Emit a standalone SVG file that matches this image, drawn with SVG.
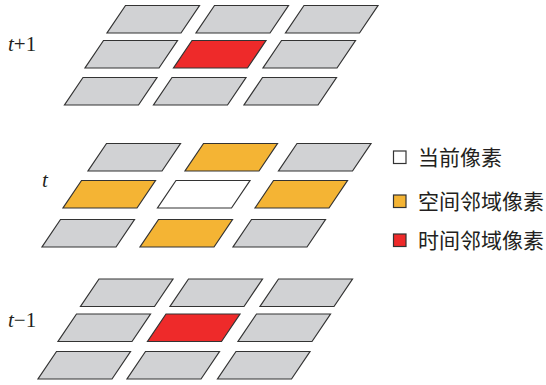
<svg xmlns="http://www.w3.org/2000/svg" width="546" height="385" viewBox="0 0 546 385">
<style>
.c{stroke:#333333;stroke-width:1.2;stroke-linejoin:miter}
.g{fill:#d1d2d4}
.o{fill:#f4b434}
.r{fill:#ee2a2a}
.w{fill:#ffffff}
.lbl{font-family:"Liberation Serif","Times New Roman",serif;font-size:21px;fill:#231f20}
.lg{font-family:"Noto Sans CJK SC","Noto Sans",sans-serif;font-size:21px;fill:#231f20}
</style>
<rect width="546" height="385" fill="#ffffff"/>
<g id="grid-t-plus-1">
<polygon class="c g" points="125.5,5.5 199.5,5.5 181,33 107,33"/>
<polygon class="c g" points="214.5,5.5 288.5,5.5 270,33 196,33"/>
<polygon class="c g" points="304,5.5 378,5.5 359.5,33 285.5,33"/>
<polygon class="c g" points="103.5,40.5 177.5,40.5 159,68 85,68"/>
<polygon class="c r" points="192,40.5 266,40.5 247.5,68 173.5,68"/>
<polygon class="c g" points="281.5,40.5 355.5,40.5 337,68 263,68"/>
<polygon class="c g" points="83,77.5 157,77.5 138.5,105 64.5,105"/>
<polygon class="c g" points="172,77.5 246,77.5 227.5,105 153.5,105"/>
<polygon class="c g" points="262.5,77.5 336.5,77.5 318,105 244,105"/>
<text class="lbl" x="8" y="51"><tspan font-style="italic">t</tspan>+1</text>
</g>
<g id="grid-t">
<polygon class="c g" points="106.5,143.5 180.5,143.5 162,171 88,171"/>
<polygon class="c o" points="203.5,143.5 277.5,143.5 259,171 185,171"/>
<polygon class="c g" points="297,143.5 371,143.5 352.5,171 278.5,171"/>
<polygon class="c o" points="81.5,180.5 155.5,180.5 137,208 63,208"/>
<polygon class="c w" points="176,180.5 250,180.5 231.5,208 157.5,208"/>
<polygon class="c o" points="273.5,180.5 347.5,180.5 329,208 255,208"/>
<polygon class="c g" points="60.5,219.5 134.5,219.5 116,247 42,247"/>
<polygon class="c o" points="158.5,219.5 232.5,219.5 214,247 140,247"/>
<polygon class="c g" points="251.5,219.5 325.5,219.5 307,247 233,247"/>
<text class="lbl" x="42" y="187" font-style="italic">t</text>
</g>
<g id="grid-t-minus-1">
<polygon class="c g" points="99,279 173,279 154.5,306.5 80.5,306.5"/>
<polygon class="c g" points="188.5,279 262.5,279 244,306.5 170,306.5"/>
<polygon class="c g" points="278.5,279 352.5,279 334,306.5 260,306.5"/>
<polygon class="c g" points="76.5,314 150.5,314 132,341.5 58,341.5"/>
<polygon class="c r" points="166,314 240,314 221.5,341.5 147.5,341.5"/>
<polygon class="c g" points="256.5,314 330.5,314 312,341.5 238,341.5"/>
<polygon class="c g" points="56.5,351.5 130.5,351.5 112,379 38,379"/>
<polygon class="c g" points="145.5,351.5 219.5,351.5 201,379 127,379"/>
<polygon class="c g" points="236,351.5 310,351.5 291.5,379 217.5,379"/>
<text class="lbl" x="8" y="326.5"><tspan font-style="italic">t</tspan>−1</text>
</g>
<g id="legend">
<g id="legend-current">
<rect class="c w" x="393.5" y="151" width="12.5" height="12.5"/>
<text class="lg" x="418" y="165">当前像素</text>
</g>
<g id="legend-spatial">
<rect class="c o" x="393.5" y="195" width="12.5" height="12.5"/>
<text class="lg" x="418" y="209">空间邻域像素</text>
</g>
<g id="legend-temporal">
<rect class="c r" x="393.5" y="234" width="12.5" height="12.5"/>
<text class="lg" x="418" y="248">时间邻域像素</text>
</g>
</g>
</svg>
